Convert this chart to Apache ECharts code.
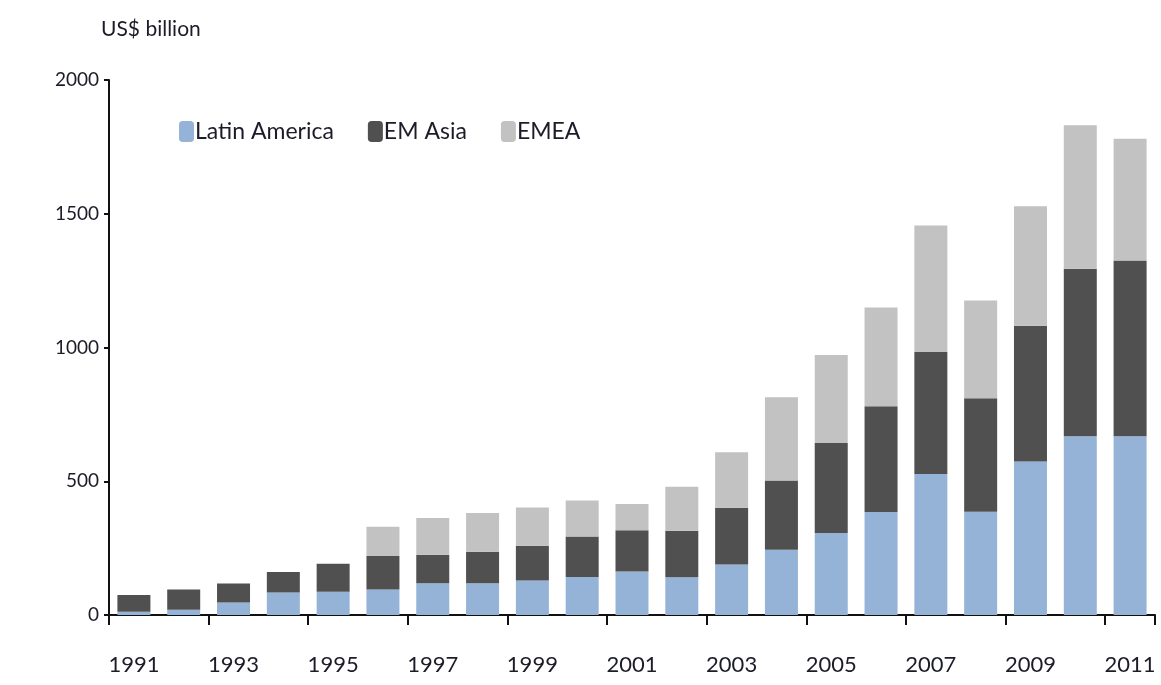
<!DOCTYPE html>
<html>
<head>
<meta charset="utf-8">
<script src="https://cdn.jsdelivr.net/npm/echarts@6/dist/echarts.min.js"></script>
<style>html,body{margin:0;padding:0;background:#fff;}#c{width:1161px;height:685px;}</style>
</head>
<body>
<div id="c"></div>
<script>
const years = ['1991','1992','1993','1994','1995','1996','1997','1998','1999','2000','2001','2002','2003','2004','2005','2006','2007','2008','2009','2010','2011'];
const latinAmerica = [12,20,47,84,87,95,119,119,129,142,163,141,189,244,307,385,527,386,574,668,668];
const emAsia = [63,75,71,77,105,126,106,117,130,151,154,174,212,259,336,395,456,424,507,626,657];
const emea = [0,0,0,0,0,109,138,145,143,135,98,164,207,311,329,370,473,366,447,537,455];
const yTicks = [0,500,1000,1500,2000];

const font = 'Lato, "Open Sans", sans-serif';
const txt = '#1c1c28';
const chart = echarts.init(document.getElementById('c'));
const mk = (name, data, color) => ({
  name, type: 'bar', stack: 'total', data, barWidth: 33,
  itemStyle: { color }, emphasis: { disabled: true }
});
chart.setOption({
  animation: false,
  title: { text: 'US$ billion', left: 96, top: 14,
    textStyle: { fontFamily: font, fontSize: 21, fontWeight: 'normal', color: txt } },
  legend: {
    left: 174, top: 115, itemWidth: 15, itemHeight: 21, itemGap: 34,
    textStyle: { fontFamily: font, fontSize: 23, color: txt, padding: [0,0,0,-4] },
    data: ['Latin America','EM Asia','EMEA']
  },
  grid: { left: 109, right: 6, top: 80, bottom: 70, containLabel: false },
  xAxis: {
    type: 'category', data: years,
    axisLine: { lineStyle: { color: '#111', width: 2 } },
    axisTick: { show: true, length: 10, inside: false, lineStyle: { color: '#111', width: 2 } },
    axisLabel: { interval: 1, margin: 39, fontFamily: font, fontSize: 22, color: txt }
  },
  yAxis: {
    type: 'value', min: yTicks[0], max: yTicks[yTicks.length-1], interval: 500,
    splitLine: { show: false },
    axisLine: { show: true, lineStyle: { color: '#111', width: 2 } },
    axisTick: { show: true, length: 5, lineStyle: { color: '#111', width: 2 } },
    axisLabel: { margin: 10, fontFamily: font, fontSize: 19, color: txt,
      formatter: v => String(v) }
  },
  series: [
    mk('Latin America', latinAmerica, '#95b3d7'),
    mk('EM Asia', emAsia, '#505050'),
    mk('EMEA', emea, '#c2c2c2')
  ]
});
</script>
</body>
</html>
